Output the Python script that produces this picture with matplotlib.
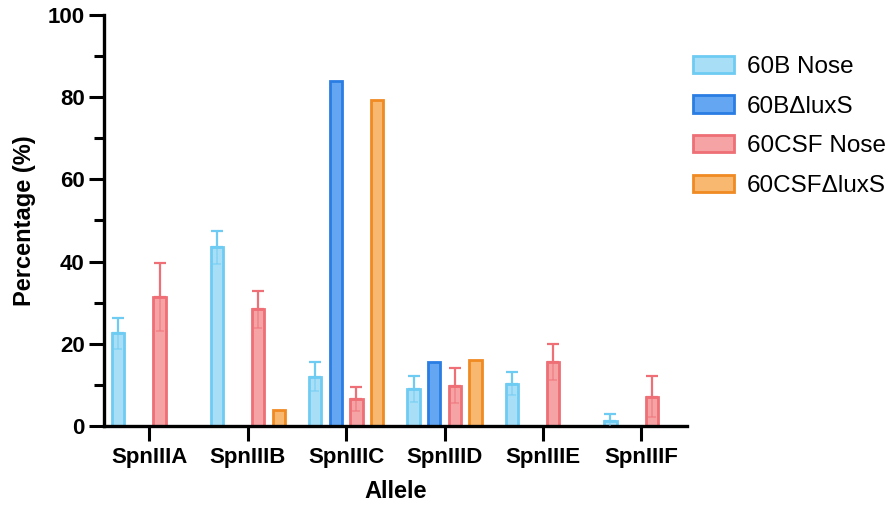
import numpy as np
import matplotlib
matplotlib.use("Agg")
import matplotlib.pyplot as plt

plt.rcParams["font.family"] = ["Liberation Sans", "DejaVu Sans"]

# --- DATA ---
alleles = ["SpnIIIA", "SpnIIIB", "SpnIIIC", "SpnIIID", "SpnIIIE", "SpnIIIF"]
groups = ["60B Nose", "60B\u0394luxS", "60CSF Nose", "60CSF\u0394luxS"]

b_nose = [22.5, 43.5, 12.0, 9.0, 10.3, 1.2]
b_nose_err = [3.8, 4.0, 3.5, 3.2, 2.8, 1.6]
b_luxs = [0, 0, 84.0, 15.6, 0, 0]
csf_nose = [31.4, 28.4, 6.6, 9.8, 15.5, 7.1]
csf_nose_err = [8.2, 4.5, 3.0, 4.3, 4.4, 5.0]
csf_luxs = [0, 4.0, 79.3, 16.0, 0, 0]

edge_cols = ["#6ECBF2", "#2A7DE3", "#EE6F75", "#F08A22"]
face_cols = ["#A9DEF7", "#64A6F2", "#F6A3A6", "#F9B870"]

series = [b_nose, b_luxs, csf_nose, csf_luxs]
errors = [b_nose_err, None, csf_nose_err, None]
offsets = [-0.315, -0.105, 0.105, 0.315]
width = 0.125

fig = plt.figure(figsize=(8.91, 5.12), dpi=100)
ax = fig.add_axes([0.1167, 0.168, 0.654, 0.803])

x = np.arange(len(alleles))
for vals, err, off, ec, fc, name in zip(series, errors, offsets, edge_cols, face_cols, groups):
    ax.bar(x + off, vals, width, color=fc, edgecolor=ec, linewidth=2.0,
           label=name, zorder=2)
    if err is not None:
        zeros = np.zeros(len(err))
        # upper half of the SD bar above the column
        ax.errorbar(x + off, vals, yerr=[zeros, err], fmt="none", ecolor=ec,
                    elinewidth=1.6, capsize=4, capthick=1.6, zorder=3)
        # lower half sits inside the column, drawn fainter
        ax.errorbar(x + off, vals, yerr=[err, zeros], fmt="none", ecolor=ec,
                    elinewidth=1.2, capsize=3, capthick=1.2, alpha=0.55, zorder=3)

ax.set_xlim(-0.46, 5.46)
ax.set_ylim(0, 100)
ax.set_xticks(x)
ax.set_xticklabels(alleles, fontsize=16, fontweight="bold")
ax.set_yticks(np.arange(0, 101, 20))
ax.set_yticks(np.arange(10, 100, 20), minor=True)
ax.tick_params(axis="y", labelsize=16, width=2.2, length=11, pad=3)
ax.tick_params(axis="y", which="minor", width=2.2, length=7)
ax.tick_params(axis="x", width=2.2, length=11, pad=4)
for lab in ax.get_yticklabels():
    lab.set_fontweight("bold")

for s in ["top", "right"]:
    ax.spines[s].set_visible(False)
for s in ["left", "bottom"]:
    ax.spines[s].set_linewidth(2.4)

ax.set_ylabel("Percentage (%)", fontsize=17, fontweight="bold", labelpad=8)
ax.set_xlabel("Allele", fontsize=17, fontweight="bold", labelpad=9)

ax.legend(loc="upper left", bbox_to_anchor=(0.767, 0.91), bbox_transform=fig.transFigure,
          frameon=False, fontsize=17.5, handlelength=1.7, handleheight=0.72,
          handletextpad=0.5, labelspacing=0.72, borderaxespad=0)

fig.savefig("out.png", dpi=100)
